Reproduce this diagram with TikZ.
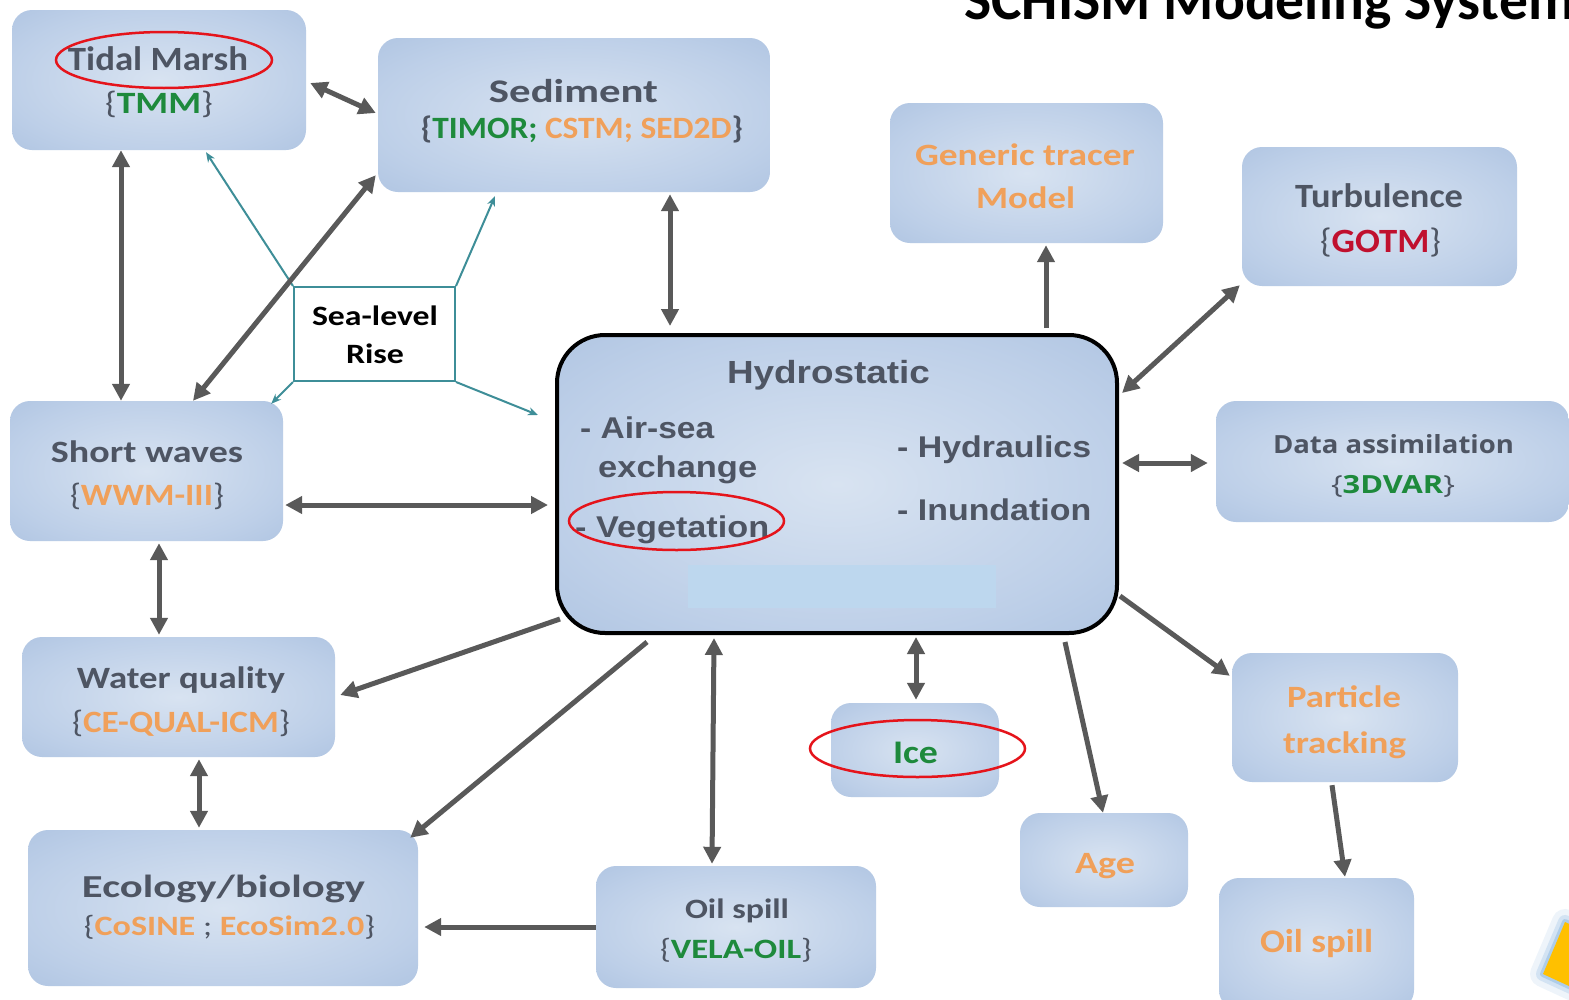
\documentclass[tikz,border=0pt]{standalone}
\usepackage{fontspec}
\usepackage{graphicx}
\setmainfont{Carlito}
\newfontfamily\arialf{Liberation Sans}
\newfontfamily\openf{Open Sans}
\usetikzlibrary{arrows.meta,calc}
\definecolor{txtgray}{HTML}{4E5563}
\definecolor{grn}{HTML}{1E8A3C}
\definecolor{org}{HTML}{F0A05A}
\definecolor{redt}{HTML}{C0102E}
\definecolor{boxin}{HTML}{D8E3F1}
\definecolor{boxmid}{HTML}{BDCFE8}
\definecolor{boxout}{HTML}{9FB8DA}
\definecolor{boxcorner}{HTML}{93ADD4}
\definecolor{arrgray}{HTML}{595959}
\definecolor{slrteal}{HTML}{3E8E98}
\definecolor{ellred}{HTML}{E5141B}
\definecolor{hlblue}{HTML}{BDD7EE}
\definecolor{sunyel}{HTML}{FFC000}
\definecolor{glowblue}{HTML}{5B9BD5}
\pgfdeclareradialshading{boxshade}{\pgfpoint{0bp}{0bp}}{color(0bp)=(boxin); color(26bp)=(boxmid); color(50bp)=(boxout); color(72bp)=(boxcorner)}
\newcommand\fs[1]{\fontsize{#1}{#1}\selectfont}
\newcommand\W[2]{\resizebox{#1pt}{\height}{#2}}
\tikzset{
  mbox/.style={rounded corners=20pt, shading=boxshade, draw=none, inner sep=0pt},
  lab/.style={inner sep=0pt, anchor=base, text=txtgray},
  labw/.style={inner sep=0pt, anchor=base west, text=txtgray},
  garrow/.style={draw=arrgray, line width=5pt, -{Triangle[length=17pt,width=17pt]}},
  gdouble/.style={draw=arrgray, line width=5pt, {Triangle[length=17pt,width=17pt]}-{Triangle[length=17pt,width=17pt]}},
  tarrow/.style={draw=slrteal, line width=2pt, -{Stealth[length=10pt,width=8pt]}},
  redell/.style={draw=ellred, line width=2.5pt}
}
\begin{document}
\begin{tikzpicture}[x=1pt,y=-1pt]
\useasboundingbox (0,0) rectangle (1569,999);
\clip (0,0) rectangle (1569,999);
\fill[white] (0,0) rectangle (1569,999);

% title
\node[anchor=base west, inner sep=0pt, font=\fs{57.5}\bfseries] (title) at (964,19) {SCHISM Modeling System};

% boxes
\node[mbox, minimum width=294pt, minimum height=140pt] (tm) at (159,80) {};
\node[mbox, minimum width=392pt, minimum height=154pt] (sed) at (574,115) {};
\node[mbox, minimum width=273pt, minimum height=140pt] (gen) at (1026.5,173) {};
\node[mbox, minimum width=275pt, minimum height=139pt] (turb) at (1379.5,216.5) {};
\node[mbox, minimum width=273pt, minimum height=140pt] (sw) at (146.5,471) {};
\node[mbox, minimum width=353pt, minimum height=121pt] (da) at (1392.5,461.5) {};
\node[mbox, minimum width=313pt, minimum height=120pt] (wq) at (178.5,697) {};
\node[mbox, minimum width=390pt, minimum height=156pt] (eco) at (223,908) {};
\node[mbox, minimum width=280pt, minimum height=122pt] (oilv) at (736,927) {};
\node[mbox, minimum width=168pt, minimum height=94pt] (ice) at (915,750) {};
\node[mbox, minimum width=168pt, minimum height=94pt] (age) at (1104,860) {};
\node[mbox, minimum width=226pt, minimum height=129pt] (pt) at (1345,717.5) {};
\node[mbox, minimum width=195pt, minimum height=132pt] (oilo) at (1316.5,944) {};
\node[mbox, rounded corners=48pt, draw=black, line width=4pt, minimum width=560pt, minimum height=298pt] (hyd) at (837,484) {};
\node[fill=hlblue, inner sep=0pt, minimum width=308pt, minimum height=43pt] (hl) at (842,586.5) {};

% teal connectors from Sea-level Rise
\node[draw=slrteal, line width=2pt, fill=white, inner sep=0pt, minimum width=161pt, minimum height=94pt] (slr) at (374.5,334) {};
\draw[tarrow] (slr.north west) -- ([xshift=47pt,yshift=-2pt]tm.south);
\draw[tarrow] (slr.north east) -- ([xshift=-79pt,yshift=-4pt]sed.south);
\draw[tarrow] (slr.south west) -- ([xshift=-12pt,yshift=-3pt]sw.north east);
\draw[tarrow] (slr.south east) -- ([xshift=-17pt,yshift=-82pt]hyd.north west);

% texts
\node[lab, font=\fs{34}\bfseries] (tmA) at (158,70) {\W{180}{Tidal Marsh}};
\node[lab, font=\fs{31}] (tmB) at (159,113) {\W{108}{\{\textcolor{grn}{\bfseries TMM}\}}};
\node[lab, font=\fs{33}\bfseries] (sedA) at (573.5,102) {\W{169}{Sediment}};
\node[lab, font=\fs{31}\bfseries] (sedB) at (582,138) {\W{322}{\{\textcolor{grn}{TIMOR;} \textcolor{org}{CSTM; SED2D}\}}};
\node[lab, font=\fs{31}\bfseries, text=org] (genA) at (1025,165) {\W{220}{Generic tracer}};
\node[lab, font=\fs{31}\bfseries, text=org] (genB) at (1025.5,208) {\W{99}{Model}};
\node[lab, font=\fs{34}\bfseries] (turbA) at (1379,207) {\W{168}{Turbulence}};
\node[lab, font=\fs{34}] (turbB) at (1380.5,252) {\W{121}{\{\textcolor{redt}{\bfseries GOTM}\}}};
\node[lab, font=\fs{28}\bfseries, text=black] (slrA) at (375,325) {\W{126}{Sea-level}};
\node[lab, font=\fs{28}\bfseries, text=black] (slrB) at (375,363) {\W{58}{Rise}};
\node[lab, font=\arialf\fs{32}\bfseries] (hydA) at (828.5,383) {\W{203}{Hydrostatic}};
\node[labw, font=\arialf\fs{30}\bfseries] (hydB) at (580,438) {\W{134}{- Air-sea}};
\node[labw, font=\arialf\fs{30}\bfseries] (hydC) at (598,477) {\W{159}{exchange}};
\node[labw, font=\arialf\fs{30}\bfseries] (hydD) at (575,537) {\W{194}{- Vegetation}};
\node[labw, font=\arialf\fs{30}\bfseries] (hydE) at (897,457) {\W{194}{- Hydraulics}};
\node[labw, font=\arialf\fs{30}\bfseries] (hydF) at (897,520) {\W{194}{- Inundation}};
\node[lab, font=\fs{31}\bfseries] (swA) at (147,462) {\W{192}{Short waves}};
\node[lab, font=\fs{31}] (swB) at (147,505) {\W{154}{\{\textcolor{org}{\bfseries WWM-III}\}}};
\node[lab, font=\openf\fs{25}\bfseries] (daA) at (1393.5,453) {\W{241}{Data assimilation}};
\node[lab, font=\openf\fs{25}] (daB) at (1393,493) {\W{124}{\{\textcolor{grn}{\bfseries 3DVAR}\}}};
\node[lab, font=\fs{31}\bfseries] (wqA) at (181,688) {\W{208}{Water quality}};
\node[lab, font=\fs{31}] (wqB) at (181,732) {\W{218}{\{\textcolor{org}{\bfseries CE-QUAL-ICM}\}}};
\node[lab, font=\fs{32}\bfseries] (ecoA) at (223.5,897) {\W{283}{Ecology/biology}};
\node[lab, font=\fs{28}] (ecoB) at (229.5,935) {\W{291}{\{\textcolor{org}{\bfseries CoSINE} ; \textcolor{org}{\bfseries EcoSim2.0}\}}};
\node[lab, font=\fs{28}\bfseries] (oilvA) at (737,918) {\W{104}{Oil spill}};
\node[lab, font=\fs{28}] (oilvB) at (736,958) {\W{152}{\{\textcolor{grn}{\bfseries VELA-OIL}\}}};
\node[lab, font=\fs{33}\bfseries, text=grn] (iceT) at (915.5,763) {\W{45}{Ice}};
\node[lab, font=\fs{31}\bfseries, text=org] (ageT) at (1105,873) {\W{60}{Age}};
\node[lab, font=\fs{31}\bfseries, text=org] (ptA) at (1344,707) {\W{114}{Particle}};
\node[lab, font=\fs{31}\bfseries, text=org] (ptB) at (1344.5,753) {\W{123}{tracking}};
\node[lab, font=\fs{33}\bfseries, text=org] (oiloT) at (1316.5,952) {\W{113}{Oil spill}};

% gray connectors
\draw[gdouble] ([xshift=4pt,yshift=-3pt]tm.east) -- ([xshift=-2pt,yshift=2pt]sed.west);
\draw[gdouble] ([xshift=-38pt]tm.south) -- ([xshift=-25.5pt]sw.north);
\draw[gdouble] ([xshift=-2pt,yshift=17pt]sed.south west) -- ([xshift=46.5pt]sw.north);
\draw[gdouble] ([xshift=96pt,yshift=-2pt]sed.south) -- ([xshift=-167pt,yshift=7pt]hyd.north);
\draw[garrow] ([xshift=209pt,yshift=5pt]hyd.north) -- ([xshift=19.5pt,yshift=-2pt]gen.south);
\draw[gdouble] ([xshift=3pt,yshift=-60pt]hyd.north east) -- ([xshift=-2pt,yshift=1pt]turb.south west);
\draw[gdouble] ([xshift=3pt,yshift=21pt]hyd.east) -- ([xshift=-8pt,yshift=-1.5pt]da.west);
\draw[gdouble] ([xshift=2pt,yshift=-34pt]sw.east) -- ([xshift=-7pt,yshift=-21pt]hyd.west);
\draw[gdouble] ([xshift=12.5pt,yshift=-2pt]sw.south) -- ([xshift=-19.5pt,yshift=2pt]wq.north);
\draw[garrow] ([xshift=5pt,yshift=16pt]hyd.south west) -- ([xshift=5pt,yshift=2pt]wq.east);
\draw[gdouble] ([xshift=20.5pt,yshift=-2pt]wq.south) -- ([xshift=-24pt,yshift=2pt]eco.north);
\draw[garrow] ([xshift=-190pt,yshift=-7pt]hyd.south) -- ([xshift=-8pt,yshift=-8pt]eco.north east);
\draw[gdouble] ([xshift=-123pt,yshift=-3pt]hyd.south) -- ([xshift=-24pt,yshift=2pt]oilv.north);
\draw[garrow] (oilv.west) -- ([xshift=6pt,yshift=-19pt]eco.east);
\draw[gdouble] ([xshift=79pt,yshift=-2pt]hyd.south) -- ([xshift=1pt,yshift=3pt]ice.north);
\draw[garrow] ([xshift=228pt,yshift=-7pt]hyd.south) -- ([xshift=-1pt]age.north);
\draw[garrow] ([xshift=1pt,yshift=39pt]hyd.south east) -- ([xshift=-2pt,yshift=-23pt]pt.north west);
\draw[garrow] ([xshift=-13pt,yshift=-3pt]pt.south) -- ([xshift=28.5pt,yshift=1pt]oilo.north);

% red highlight ellipses
\draw[redell] (164,60) ellipse (108pt and 28pt);
\draw[redell] (676.5,521) ellipse (107.5pt and 29pt);
\draw[redell] (917.5,748.5) ellipse (107.5pt and 28.5pt);

% corner decoration
\draw[glowblue, opacity=0.10, line width=26pt, line join=round] (1565,922) -- (1543,974) -- (1621,1010) -- (1643,958) -- cycle;
\draw[glowblue, opacity=0.18, line width=14pt, line join=round] (1565,922) -- (1543,974) -- (1621,1010) -- (1643,958) -- cycle;
\draw[glowblue, opacity=0.3, line width=6pt, line join=round] (1565,922) -- (1543,974) -- (1621,1010) -- (1643,958) -- cycle;
\fill[sunyel] (1565,922) -- (1543,974) -- (1621,1010) -- (1643,958) -- cycle;
\end{tikzpicture}
\end{document}
